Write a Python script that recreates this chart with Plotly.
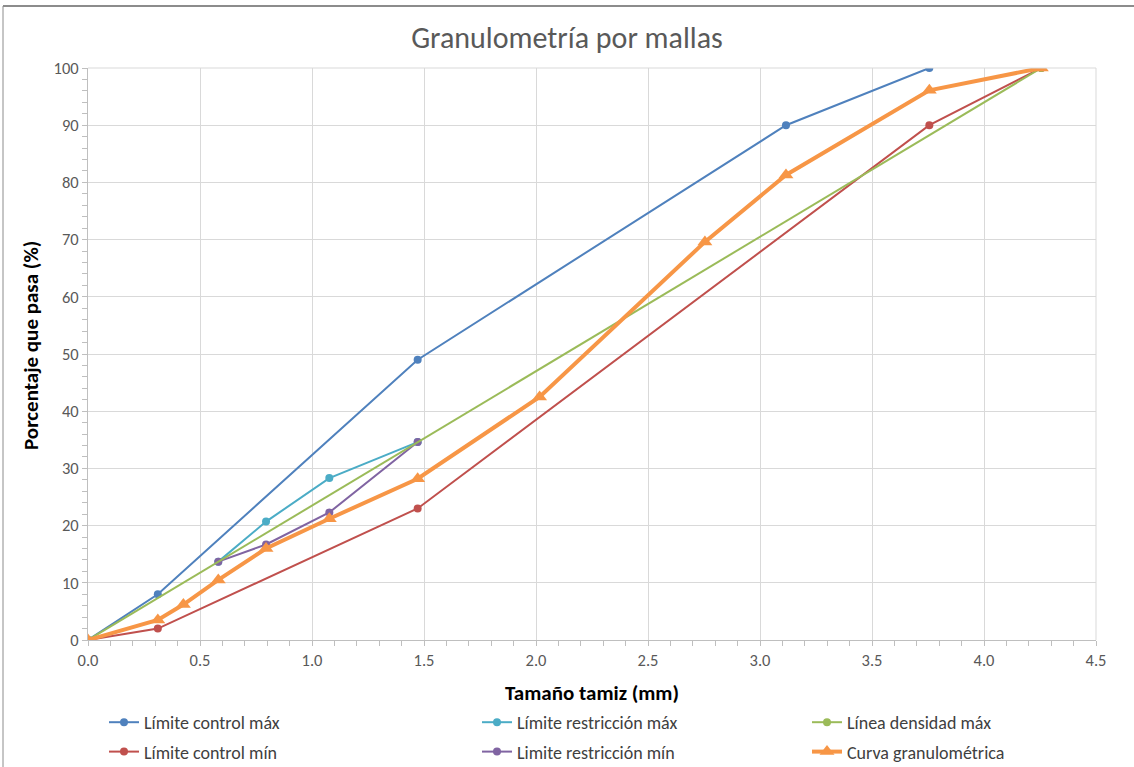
import plotly.graph_objects as go

# Sieve sizes raised to the 0.45 power (x axis values)
x_ctrl_max = [0.0, 0.3117, 1.4717, 3.116, 3.756]
y_ctrl_max = [0, 8, 49, 90, 100]

x_ctrl_min = [0.0, 0.3117, 1.4717, 3.756, 4.256]
y_ctrl_min = [0, 2, 23, 90, 100]

x_restr_max = [0.5817, 0.7948, 1.0773, 1.4717]
y_restr_max = [13.7, 20.7, 28.3, 34.6]

x_restr_min = [0.5817, 0.7948, 1.0773, 1.4717]
y_restr_min = [13.7, 16.7, 22.3, 34.6]

x_dens = [0.0, 4.256]
y_dens = [0, 100]

x_curva = [0.0, 0.3117, 0.4258, 0.5817, 0.7948, 1.0773, 1.4717, 2.016, 2.754, 3.116, 3.756, 4.256]
y_curva = [0, 3.5, 6.2, 10.5, 16.0, 21.2, 28.2, 42.5, 69.6, 81.3, 96.1, 100]

FONT = "Carlito, Lato, 'Liberation Sans', sans-serif"

fig = go.Figure()

def add(x, y, name, color, legend, width=2, symbol="circle", size=8):
    fig.add_trace(go.Scatter(
        x=x, y=y, name=name, mode="lines+markers",
        line=dict(color=color, width=width),
        marker=dict(color=color, symbol=symbol, size=size),
        legend=legend, legendgroup=name,
    ))

add(x_ctrl_max, y_ctrl_max, "Límite control máx", "#4F81BD", "legend")
add(x_ctrl_min, y_ctrl_min, "Límite control mín", "#C0504D", "legend")
add(x_restr_max, y_restr_max, "Límite restricción máx", "#4BACC6", "legend2")
add(x_restr_min, y_restr_min, "Limite restricción mín", "#8064A2", "legend2")
add(x_dens, y_dens, "Línea densidad máx", "#9BBB59", "legend3")
add(x_curva, y_curva, "Curva granulométrica", "#F79646", "legend3", width=4, symbol="triangle-up", size=13)

L, R, T, B = 88, 38, 68, 127
W, H = 1134, 767
pw, ph = W - L - R, H - T - B

def px(xp):
    return (xp - L) / pw

def py(yp):
    return (H - B - yp) / ph

def cx(xp):
    return xp / W

def cy(yp):
    return 1 - yp / H

leg_common = dict(
    orientation="v", xanchor="left", yanchor="top",
    xref="container", yref="container",
    font=dict(family=FONT, size=18, color="#404040"),
    bgcolor="rgba(0,0,0,0)", itemwidth=30,
    traceorder="grouped", tracegroupgap=3,
)

fig.update_layout(
    width=W, height=H,
    margin=dict(l=L, r=R, t=T, b=B, autoexpand=False),
    paper_bgcolor="white", plot_bgcolor="white",
    title=dict(text="Granulometría por mallas", x=0.5, xanchor="center", xref="container",
               y=1 - 37 / H, yanchor="middle", yref="container",
               font=dict(family=FONT, size=30, color="#595959")),
    font=dict(family=FONT, color="#595959"),
    xaxis=dict(
        range=[0, 4.5], dtick=0.5, tickformat=".1f",
        showgrid=True, gridcolor="#D9D9D9", gridwidth=1,
        showline=True, linecolor="#BFBFBF", linewidth=1,
        ticks="outside", ticklen=5, tickcolor="#BFBFBF",
        minor=dict(dtick=0.1, ticks="outside", ticklen=5, tickcolor="#BFBFBF", showgrid=False),
        tickfont=dict(family=FONT, size=16.5, color="#595959"),
        title=dict(text="<b>Tamaño tamiz (mm)</b>", standoff=16,
                   font=dict(family=FONT, size=21, color="black")),
        zeroline=False, automargin=True,
    ),
    yaxis=dict(
        range=[0, 100], dtick=10,
        showgrid=True, gridcolor="#D9D9D9", gridwidth=1,
        showline=True, linecolor="#BFBFBF", linewidth=1,
        ticks="outside", ticklen=5, tickcolor="#BFBFBF",
        minor=dict(dtick=2, ticks="outside", ticklen=5, tickcolor="#BFBFBF", showgrid=False),
        tickfont=dict(family=FONT, size=16.5, color="#595959"),
        zeroline=False, automargin=True,
    ),
    annotations=[
        dict(text="<b>Porcentaje que pasa (%)</b>", textangle=-90,
             xref="paper", yref="paper", x=px(31), y=py(346),
             xanchor="center", yanchor="middle", showarrow=False,
             font=dict(family=FONT, size=21, color="black")),
    ],
    legend=dict(x=cx(104), y=cy(704), **leg_common),
    legend2=dict(x=cx(477), y=cy(704), **leg_common),
    legend3=dict(x=cx(807), y=cy(704), **leg_common),
    shapes=[
        dict(type="line", xref="paper", yref="paper", x0=px(3), x1=px(1134), y0=py(6), y1=py(6),
             line=dict(color="#8C8C8C", width=2)),
        dict(type="line", xref="paper", yref="paper", x0=px(3), x1=px(3), y0=py(6), y1=py(767),
             line=dict(color="#8C8C8C", width=1)),
        dict(type="line", xref="paper", yref="paper", x0=1, x1=1, y0=0, y1=1,
             line=dict(color="#D9D9D9", width=1)),
        dict(type="line", xref="paper", yref="paper", x0=0, x1=1, y0=1, y1=1,
             line=dict(color="#D9D9D9", width=1)),
    ],
)

fig.write_html("out.html")
